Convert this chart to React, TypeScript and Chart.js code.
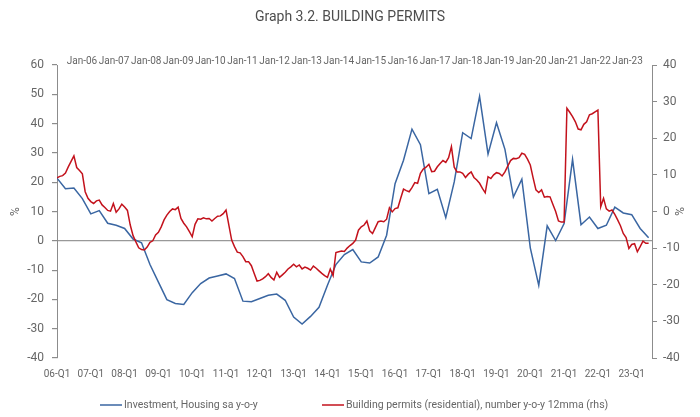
import React, { useEffect, useRef } from 'react';
import { Chart, registerables } from 'chart.js';

Chart.register(...registerables);

const chartTitle = 'Graph 3.2. BUILDING PERMITS';
const investmentLabel = 'Investment, Housing sa y-o-y';
const permitsLabel = 'Building permits (residential), number y-o-y 12mma (rhs)';

const startYear = 2006;

const quarterTickLabels = [
  '06-Q1', '07-Q1', '08-Q1', '09-Q1', '10-Q1', '11-Q1', '12-Q1', '13-Q1', '14-Q1',
  '15-Q1', '16-Q1', '17-Q1', '18-Q1', '19-Q1', '20-Q1', '21-Q1', '22-Q1', '23-Q1',
];

const monthTickLabels = [
  'Jan-06', 'Jan-07', 'Jan-08', 'Jan-09', 'Jan-10', 'Jan-11', 'Jan-12', 'Jan-13', 'Jan-14',
  'Jan-15', 'Jan-16', 'Jan-17', 'Jan-18', 'Jan-19', 'Jan-20', 'Jan-21', 'Jan-22', 'Jan-23',
];

const leftAxisTicks = [-40, -30, -20, -10, 0, 10, 20, 30, 40, 50, 60];
const rightAxisTicks = [-40, -30, -20, -10, 0, 10, 20, 30, 40];

// Quarterly, 2006-Q1 .. 2023-Q3 (left axis)
const investmentQuarterly = [
  21.4, 17.8, 18.0, 14.4, 9.2, 10.3, 6.0, 5.3, 4.2, 0.6,
  -0.7, -8.1, -14.1, -20.1, -21.4, -21.7, -17.7, -14.6, -12.7, -12.0,
  -11.3, -12.9, -20.6, -20.8, -19.7, -18.6, -18.2, -20.3, -26.0, -28.4,
  -25.8, -22.7, -15.2, -8.1, -4.7, -3.0, -7.2, -7.6, -5.5, 1.9,
  19.5, 27.5, 38.1, 32.8, 16.1, 17.6, 7.9, 20.1, 36.9, 34.9,
  49.3, 29.6, 40.3, 31.2, 14.9, 21.0, -2.4, -15.2, 5.1, 0.1,
  5.9, 27.8, 5.5, 8.1, 4.2, 5.3, 11.5, 9.5, 8.9, 4.2,
  1.0,
];

// Monthly, Jan-2006 .. Jul-2023 (right axis)
const permitsMonthly = [
  9.2, 9.6, 9.8, 10.5, 12.2, 13.7, 15.2, 12.0, 11.2, 10.3, 5.4, 3.6,
  2.7, 2.2, 2.9, 3.1, 1.8, 1.1, 0.3, 0.1, 2.2, -0.2, 0.7, 2.0,
  1.2, 0.3, -3.7, -6.6, -8.3, -9.9, -10.4, -10.5, -9.7, -8.4, -8.0, -6.4,
  -5.7, -4.2, -2.3, -1.0, 0.0, 0.7, 0.5, 1.2, -1.9, -3.2, -4.2, -5.5,
  -6.9, -3.5, -2.0, -2.1, -1.7, -2.0, -1.9, -2.6, -1.9, -1.3, -1.2, -0.6,
  0.4, -3.7, -7.8, -9.6, -11.1, -11.3, -12.3, -13.7, -13.7, -14.8, -16.9, -19.0,
  -18.8, -18.4, -17.8, -17.0, -18.0, -18.7, -16.6, -18.0, -17.3, -16.6, -15.7, -15.1,
  -14.4, -15.1, -14.6, -15.7, -15.2, -15.5, -16.0, -14.9, -15.5, -16.2, -16.9, -17.5,
  -18.0, -15.7, -17.5, -11.2, -11.0, -10.8, -10.9, -10.0, -9.3, -8.7, -7.8, -5.1,
  -4.2, -3.7, -2.6, -5.3, -6.0, -4.4, -2.8, -2.6, -2.8, -2.1, 1.0, -0.1,
  0.8, 1.0, 3.6, 6.1, 5.7, 5.4, 6.5, 7.9, 7.7, 10.4, 11.6, 12.1,
  12.9, 10.9, 11.0, 12.2, 13.1, 13.9, 13.4, 14.7, 17.7, 12.1, 10.8, 10.8,
  10.4, 9.3, 10.2, 10.8, 9.3, 8.6, 7.7, 6.3, 5.1, 9.5, 9.0, 10.0,
  10.6, 10.4, 9.7, 10.8, 12.4, 13.9, 14.5, 14.4, 14.7, 15.9, 15.6, 14.3,
  12.7, 9.2, 5.9, 5.2, 5.9, 3.9, 4.1, 4.0, 2.0, 0.0, -2.6, -2.9,
  -2.9, 28.2, 27.1, 25.9, 24.5, 22.5, 22.3, 23.8, 24.5, 26.4, 26.7, 27.2,
  27.7, 1.3, 3.6, 0.7, 0.1, 0.4, -0.8, -2.3, -3.9, -6.0, -7.1, -10.1,
  -9.0, -8.8, -11.0, -9.6, -8.1, -8.7, -8.7,
];

const FONT = 'Roboto, "Noto Sans", sans-serif';
const TEXT = '#666666';
const AXIS = '#8c8c8c';
const BLUE = '#3a66a2';
const RED = '#c3121c';

const legendPlugin = {
  id: 'fixedLegend',
  afterDraw(chart: any) {
    const ctx = chart.ctx;
    const y = 405;
    const items = [
      { x: 100, ds: 0 },
      { x: 322, ds: 1 },
    ];
    ctx.save();
    ctx.font = `10.5px ${FONT}`;
    ctx.textBaseline = 'middle';
    ctx.textAlign = 'left';
    items.forEach((it) => {
      const ds = chart.data.datasets[it.ds];
      ctx.strokeStyle = ds.borderColor;
      ctx.lineWidth = 1.5;
      ctx.beginPath();
      ctx.moveTo(it.x, y);
      ctx.lineTo(it.x + 22, y);
      ctx.stroke();
      ctx.fillStyle = TEXT;
      ctx.fillText(ds.label, it.x + 24, y);
    });
    ctx.restore();
  },
};

export default function App() {
  const canvasRef = useRef<HTMLCanvasElement | null>(null);

  useEffect(() => {
    if (!canvasRef.current) return;
    const investmentData = investmentQuarterly.map((v, i) => ({ x: startYear + i / 4, y: v }));
    const permitsData = permitsMonthly.map((v, i) => ({ x: startYear + i / 12, y: v }));

    const chart = new Chart(canvasRef.current, {
      type: 'line',
      data: {
        datasets: [
          {
            label: investmentLabel,
            data: investmentData,
            borderColor: BLUE,
            backgroundColor: BLUE,
            borderWidth: 1.5,
            pointRadius: 0,
            tension: 0,
            xAxisID: 'x',
            yAxisID: 'y',
            order: 1,
          },
          {
            label: permitsLabel,
            data: permitsData,
            borderColor: RED,
            backgroundColor: RED,
            borderWidth: 1.5,
            pointRadius: 0,
            tension: 0,
            xAxisID: 'x',
            yAxisID: 'y2',
            order: 0,
          },
        ],
      },
      options: {
        animation: false,
        responsive: true,
        maintainAspectRatio: false,
        layout: { padding: 0 },
        plugins: {
          legend: { display: false },
          tooltip: { enabled: false },
          title: {
            display: true,
            text: chartTitle,
            color: '#4d4d4d',
            font: { family: FONT, size: 14, weight: 'normal' },
            padding: { top: 9, bottom: 0 },
          },
        },
        scales: {
          x: {
            type: 'linear',
            position: 'bottom',
            min: startYear,
            max: 2023.6,
            afterBuildTicks: (s: any) => {
              s.ticks = quarterTickLabels.map((_, i) => ({ value: startYear + i }));
            },
            afterFit: (s: any) => {
              s.height = 59;
            },
            grid: { display: false, drawTicks: false },
            border: { display: false },
            ticks: {
              autoSkip: false,
              maxRotation: 0,
              minRotation: 0,
              padding: 10,
              color: TEXT,
              font: { family: FONT, size: 10 },
              callback: (_v: any, i: number) => quarterTickLabels[i],
            },
          },
          x2: {
            type: 'linear',
            position: 'top',
            min: -0.779,
            max: 17.76,
            afterBuildTicks: (s: any) => {
              s.ticks = monthTickLabels.map((_, i) => ({ value: i }));
            },
            afterFit: (s: any) => {
              s.height = 39.2;
            },
            grid: { display: false, drawTicks: false },
            border: { display: false },
            ticks: {
              autoSkip: false,
              maxRotation: 0,
              minRotation: 0,
              padding: -2,
              color: TEXT,
              font: { family: FONT, size: 10 },
              callback: (_v: any, i: number) => monthTickLabels[i],
            },
          },
          y: {
            position: 'left',
            min: -40,
            max: 60,
            afterBuildTicks: (s: any) => {
              s.ticks = leftAxisTicks.map((v) => ({ value: v }));
            },
            afterFit: (s: any) => {
              s.width = 57;
            },
            grid: {
              color: (c: any) => (c.tick && c.tick.value === 0 ? '#999999' : 'rgba(0,0,0,0)'),
              lineWidth: 1.2,
              tickColor: AXIS,
              tickLength: 5,
              drawTicks: true,
            },
            border: { display: true, color: AXIS, width: 1 },
            ticks: {
              padding: 8,
              color: TEXT,
              font: { family: FONT, size: 12 },
              callback: (v: any) => String(v),
            },
            title: {
              display: true,
              text: '%',
              color: TEXT,
              font: { family: FONT, size: 12 },
              padding: 9,
            },
          },
          y2: {
            position: 'right',
            min: -40,
            max: 40,
            afterBuildTicks: (s: any) => {
              s.ticks = rightAxisTicks.map((v) => ({ value: v }));
            },
            afterFit: (s: any) => {
              s.width = 48;
            },
            grid: {
              drawOnChartArea: false,
              tickColor: AXIS,
              tickLength: 5,
              drawTicks: true,
            },
            border: { display: true, color: AXIS, width: 1 },
            ticks: {
              padding: 6,
              color: TEXT,
              font: { family: FONT, size: 12 },
              callback: (v: any) => String(v),
            },
            title: {
              display: true,
              text: '%',
              color: TEXT,
              font: { family: FONT, size: 12 },
              padding: 15,
            },
          },
        },
      } as any,
      plugins: [legendPlugin],
    });

    return () => chart.destroy();
  }, []);

  return (
    <div style={{ position: 'absolute', left: 0, top: 0, width: 700, height: 417, background: '#ffffff' }}>
      <canvas ref={canvasRef} />
    </div>
  );
}
